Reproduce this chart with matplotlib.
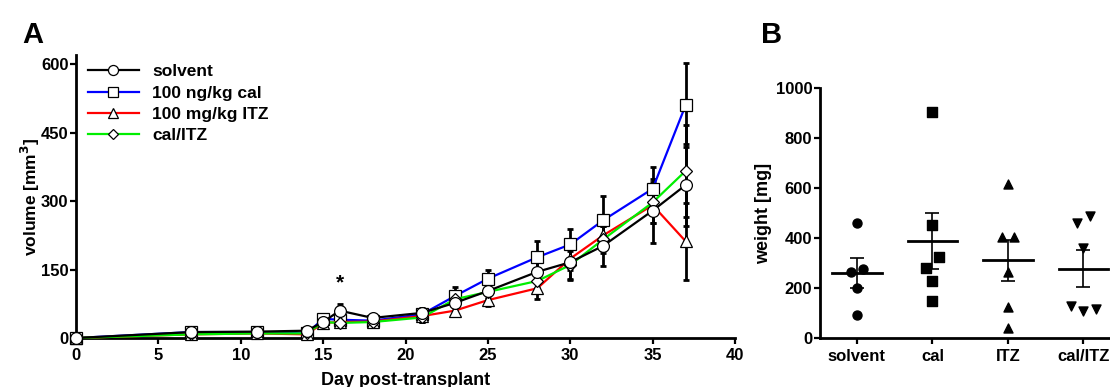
import numpy as np
import matplotlib
matplotlib.use('Agg')
import matplotlib.pyplot as plt

plt.rcParams['font.family'] = ['Liberation Sans', 'DejaVu Sans']
plt.rcParams['font.weight'] = 'bold'

# Panel A: tumour volume over time (mean +/- SEM)
days = [0, 7, 11, 14, 15, 16, 18, 21, 23, 25, 28, 30, 32, 35, 37]
labels_A = ['solvent', '100 ng/kg cal', '100 mg/kg ITZ', 'cal/ITZ']
vol_solvent = [0, 13, 14, 16, 35, 60, 44, 55, 77, 103, 145, 166, 202, 279, 335]
vol_cal = [0, 13, 13, 10, 42, 40, 38, 52, 92, 130, 177, 205, 258, 327, 510]
vol_itz = [0, 8, 10, 8, 33, 35, 36, 48, 60, 83, 109, 174, 225, 291, 212]
vol_calitz = [0, 8, 10, 10, 35, 33, 35, 45, 85, 101, 125, 160, 216, 297, 366]
sem_solvent = [0, 3, 3, 3, 5, 14, 5, 10, 15, 15, 35, 38, 44, 70, 90]
sem_cal = [0, 3, 3, 3, 5, 8, 5, 12, 20, 20, 35, 34, 53, 48, 92]
sem_itz = [0, 3, 3, 3, 5, 9, 5, 12, 8, 12, 24, 25, 30, 40, 84]
sem_calitz = [0, 3, 3, 3, 5, 8, 5, 10, 12, 15, 25, 30, 30, 45, 100]

# Panel B: tumour weight per animal
groups_B = ['solvent', 'cal', 'ITZ', 'cal/ITZ']
w_solvent = [460, 266, 275, 202, 93]
w_cal = [902, 452, 326, 279, 229, 150]
w_itz = [614, 403, 403, 266, 126, 43]
w_calitz = [461, 488, 362, 129, 109, 117]
jit_solvent = [0, -0.085, 0.085, 0, 0]
jit_cal = [0, 0, 0.085, -0.085, 0, 0]
jit_itz = [0, -0.085, 0.085, 0, 0, 0]
jit_calitz = [-0.088, 0.084, 0, -0.168, 0, 0.163]
mean_B = [259, 390, 311, 277]
sem_B = [60, 112, 83, 74]


def style_axes(ax):
    for s in ['top', 'right']:
        ax.spines[s].set_visible(False)
    for s in ['left', 'bottom']:
        ax.spines[s].set_linewidth(2)
    ax.tick_params(direction='out', length=4.5, width=1.6, labelsize=12, pad=1)


fig = plt.figure(figsize=(11.1, 3.87), dpi=100)

# ---------------- Panel A ----------------
axA = fig.add_axes([0.0685, 0.1266, 0.5937, 0.7313])
series = [
    (vol_cal, sem_cal, '#0000FF', 's', labels_A[1]),
    (vol_itz, sem_itz, '#FF0000', '^', labels_A[2]),
    (vol_calitz, sem_calitz, '#00EE00', 'D', labels_A[3]),
    (vol_solvent, sem_solvent, 'black', 'o', labels_A[0]),
]
handles = {}
for i, (v, e, c, m, lab) in enumerate(series):
    axA.errorbar(days, v, yerr=e, fmt='none', ecolor='black', elinewidth=2,
                 capsize=2.2, capthick=2, zorder=2 + i)
    ms = 6.5 if m == 'D' else 8.5
    h, = axA.plot(days, v, color=c, lw=1.6, marker=m, ms=ms, mfc='white',
                  mec='black', mew=0.9, label=lab, zorder=6 + i, clip_on=False)
    handles[lab] = h

axA.text(16, 100, '*', ha='center', va='bottom', fontsize=15)
axA.set_xlim(0, 40)
axA.set_ylim(0, 620)
axA.set_xticks(range(0, 41, 5))
axA.set_yticks([0, 150, 300, 450, 600])
style_axes(axA)
axA.tick_params(axis='x', pad=3)
axA.set_xlabel('Day post-transplant', fontsize=13, fontweight='bold')
axA.xaxis.set_label_coords(0.5, -0.12)
axA.set_ylabel('volume [mm$^\\mathbf{3}$]', fontsize=12.5, fontweight='bold')
axA.yaxis.set_label_coords(-0.052, 0.5)
axA.legend([handles[l] for l in labels_A], labels_A, loc='upper left',
           bbox_to_anchor=(0.0, 1.01), frameon=False, fontsize=12.5,
           handlelength=2.9, handletextpad=0.8, labelspacing=0.35,
           borderaxespad=0.3, markerscale=0.85)
fig.text(0.020, 0.89, 'A', fontsize=21, fontweight='bold')

# ---------------- Panel B ----------------
axB = fig.add_axes([0.7387, 0.1258, 0.2646, 0.6476])
weights = [w_solvent, w_cal, w_itz, w_calitz]
jitters = [jit_solvent, jit_cal, jit_itz, jit_calitz]
markers_B = ['o', 's', '^', 'v']
for i, (w, j, m) in enumerate(zip(weights, jitters, markers_B)):
    xs = np.array(j) + i
    axB.scatter(xs, w, marker=m, s=42, color='black', zorder=3, clip_on=False)
    axB.plot([i - 0.33, i + 0.33], [mean_B[i], mean_B[i]], color='black', lw=2, zorder=4)
    axB.errorbar(i, mean_B[i], yerr=sem_B[i], fmt='none', ecolor='black',
                 elinewidth=1.2, capsize=5, capthick=1.2, zorder=4)

axB.set_xlim(-0.49, 3.4)
axB.set_ylim(0, 1000)
axB.set_xticks(range(4))
axB.set_xticklabels(groups_B)
axB.set_yticks(range(0, 1001, 200))
style_axes(axB)
axB.tick_params(axis='x', pad=3)
axB.set_ylabel('weight [mg]', fontsize=13, fontweight='bold')
axB.yaxis.set_label_coords(-0.163, 0.5)
fig.text(0.686, 0.89, 'B', fontsize=21, fontweight='bold')

fig.savefig('out.png', dpi=100)
